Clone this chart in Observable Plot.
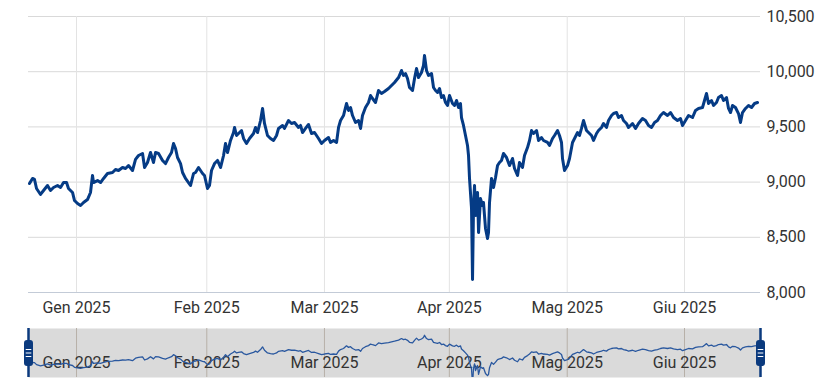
<!DOCTYPE html>
<html>
<head>
<meta charset="utf-8">
<script src="https://cdn.jsdelivr.net/npm/d3@7"></script>
<script src="https://cdn.jsdelivr.net/npm/@observablehq/plot@0.6"></script>
<style>
  html, body { margin: 0; padding: 0; background: #fff; }
  #chart { position: relative; width: 816px; height: 380px; overflow: hidden; }
  #chart svg { position: absolute; left: 0; display: block; }
</style>
</head>
<body>
<div id="chart"></div>
<script>
// Trading-session index (0 = first session of January 2025) and index level
const sessions = [
  -7.97,-7.46,-7.12,-6.78,-6.10,-5.59,-4.92,-4.41,-3.90,-3.22,-2.71,-2.20,-1.69,-1.36,-0.68,-0.34,
  0.17,0.68,1.19,1.86,2.37,2.71,2.88,3.56,4.07,4.58,5.25,6.10,6.61,7.12,7.80,8.31,8.81,9.49,10.0,
  10.51,11.19,11.53,12.03,12.54,
  13.05,13.39,13.90,14.58,15.08,15.59,16.10,16.44,16.78,17.12,17.63,17.97,18.47,18.98,19.32,19.83,
  20.17,20.68,21.36,21.69,22.20,22.54,22.88,23.39,23.90,24.41,24.92,25.25,25.59,26.10,26.61,26.78,
  27.12,27.46,27.97,28.31,28.81,29.32,30.0,30.34,30.68,31.19,31.53,31.86,32.37,32.88,33.39,33.90,
  34.24,34.92,35.25,35.93,36.44,36.95,37.63,37.97,38.31,38.81,39.32,39.83,40.34,41.02,41.53,42.03,
  42.71,43.05,43.56,44.07,44.41,44.75,45.25,45.76,46.10,46.44,46.78,47.29,47.80,48.14,48.47,48.98,
  49.49,49.83,50.17,50.68,51.19,51.69,52.20,52.88,53.39,53.90,54.58,55.08,
  55.42,55.76,56.10,56.44,56.95,57.29,57.63,57.97,58.47,58.81,58.98,59.32,59.66,60.17,60.51,60.85,
  61.19,61.53,61.86,62.20,62.54,62.88,63.22,63.73,64.07,64.41,64.75,65.08,65.25,65.59,65.93,66.27,
  66.44,66.61,66.95,67.12,67.29,67.46,67.63,67.97,68.14,68.47,68.81,68.98,69.32,69.66,69.83,70.0,
  70.34,70.68,71.02,71.36,71.69,
  72.03,72.37,72.88,73.39,73.90,74.24,74.75,75.08,75.59,75.93,76.44,76.78,77.12,77.46,77.97,78.31,
  78.81,79.15,79.83,80.17,80.68,81.02,81.53,81.86,82.20,82.37,82.71,83.22,83.56,84.07,84.41,84.92,
  85.25,85.59,85.93,86.44,86.78,87.29,87.63,88.14,88.47,88.98,89.32,89.83,90.17,90.68,91.02,91.53,
  91.86,92.37,92.71,93.22,
  93.56,94.24,94.75,95.25,95.93,96.44,96.95,97.46,97.97,98.47,98.98,99.49,100.17,100.68,101.19,
  101.86,102.37,102.71,103.22,103.73,104.41,104.92,105.42,106.10,106.44,106.78,107.12,107.63,
  107.97,108.47,108.81,109.32,109.66,110.17,110.51,110.85,111.19,111.69,112.20,112.54,112.88,
  113.39,113.90,114.41,114.92,115.42
];
const prices = [
  8987,9033,9024,8942,8888,8924,8969,8924,8951,8969,8951,8996,8996,8942,8906,8833,
  8806,8788,8815,8842,8906,9060,8996,9014,8996,9033,9078,9087,9114,9105,9132,9123,9150,9105,9205,
  9241,9259,9132,9178,9268,
  9178,9268,9259,9196,9168,9223,9268,9350,9304,9223,9168,9087,9033,8996,8969,9078,
  9087,9132,9078,9060,8942,8969,9105,9168,9196,9132,9241,9350,9268,9377,9449,9495,
  9422,9440,9467,9395,9350,9395,9440,9495,9449,9558,9667,9531,9422,9395,9377,9422,
  9486,9513,9486,9558,9531,9540,9495,9513,9449,9486,9522,9440,9449,9395,9350,9377,
  9404,9359,9377,9359,9495,9558,9603,9712,9649,9676,9603,9540,9558,9486,9603,9676,
  9721,9784,9757,9721,9830,9803,9821,9848,9875,9902,9947,10011,
  9966,9984,9938,9857,9830,9938,10029,9947,9993,10056,10147,10011,9966,9984,9857,9830,
  9812,9848,9766,9784,9721,9694,9784,9712,9694,9739,9676,9712,9585,9513,9422,9332,
  9241,9033,8761,8118,8788,8969,8697,8906,8543,8851,8788,8815,8580,8489,8543,8815,
  9033,8951,9042,9150,9178,
  9196,9259,9223,9150,9214,9123,9060,9178,9132,9241,9313,9377,9467,9440,9467,9377,
  9404,9377,9359,9332,9395,9422,9467,9422,9359,9214,9105,9150,9214,9359,9395,9449,
  9422,9486,9558,9467,9449,9422,9377,9440,9467,9495,9531,9495,9558,9603,9621,9630,
  9585,9603,9558,9531,
  9495,9531,9486,9531,9576,9558,9513,9495,9540,9558,9603,9630,9603,9630,9585,
  9558,9576,9513,9558,9603,9585,9649,9667,9676,9739,9803,9712,9739,
  9694,9721,9766,9784,9739,9766,9667,9630,9694,9676,9621,9540,9630,
  9667,9694,9676,9712,9721
];

// Month ticks (session index of each month start) and labels
const monthTicks = [0, 22.08, 42.02, 63.19, 83.17, 103.05];
const monthLabels = ["Gen 2025", "Feb 2025", "Mar 2025", "Apr 2025", "Mag 2025", "Giu 2025"];
const yTicks = [8000, 8500, 9000, 9500, 10000, 10500];
const xDomain = [-8.14, 115.93];
const yDomain = [8000, 10500];
const navYDomain = [8414, 10423];

const points = sessions.map((s, i) => ({s, v: prices[i]}));
const fmt = d3.format(",");
const labelOf = d => monthLabels[monthTicks.indexOf(d)];

const FONT = "Roboto, 'Liberation Sans', sans-serif";
const TEXT = "#333333";
const LINE = "#053b85";
const HANDLE = "#0b3a7e";

const main = Plot.plot({
  width: 816,
  height: 325,
  marginTop: 16,
  marginBottom: 33,
  marginLeft: 28,
  marginRight: 56,
  style: {fontFamily: FONT, fontSize: "16px", color: TEXT, background: "transparent", overflow: "visible"},
  x: {domain: xDomain, ticks: monthTicks, tickFormat: labelOf, tickSize: 0, tickPadding: 9, label: null},
  y: {domain: yDomain, ticks: yTicks, tickFormat: fmt, axis: "right", tickSize: 0, tickPadding: 6, label: null},
  marks: [
    Plot.ruleY(yTicks, {stroke: "#d9d9d9", strokeWidth: 1}),
    Plot.ruleX(monthTicks, {stroke: "#e3e3e3", strokeWidth: 1}),
    Plot.ruleY([yDomain[0]], {stroke: "#c3cbd7", strokeWidth: 1.2}),
    Plot.line(points, {x: "s", y: "v", stroke: LINE, strokeWidth: 3, strokeLinejoin: "round", strokeLinecap: "round"})
  ]
});
main.style.top = "0px";

const handleSymbol = {
  draw(ctx) {
    const w = 4.5, h = 13, r = 3;
    ctx.moveTo(-w + r, -h);
    ctx.lineTo(w - r, -h);
    ctx.arcTo(w, -h, w, -h + r, r);
    ctx.lineTo(w, h - r);
    ctx.arcTo(w, h, w - r, h, r);
    ctx.lineTo(-w + r, h);
    ctx.arcTo(-w, h, -w, h - r, r);
    ctx.lineTo(-w, -h + r);
    ctx.arcTo(-w, -h, -w + r, -h, r);
    ctx.closePath();
  }
};
const gripSymbol = {
  draw(ctx) {
    for (const yy of [-3.5, 0, 3.5]) {
      ctx.moveTo(-2.8, yy);
      ctx.lineTo(2.8, yy);
    }
  }
};

const nav = Plot.plot({
  width: 816,
  height: 55,
  marginTop: 3,
  marginBottom: 3,
  marginLeft: 28,
  marginRight: 56,
  style: {fontFamily: FONT, fontSize: "16px", color: TEXT, background: "transparent", overflow: "visible"},
  x: {domain: xDomain, axis: null},
  y: {domain: navYDomain, axis: null},
  marks: [
    Plot.frame({fill: "#dadada", stroke: null}),
    Plot.ruleX(monthTicks, {stroke: "#b7b0a8", strokeWidth: 1}),
    Plot.text(monthTicks, {x: d => d, text: labelOf, frameAnchor: "bottom", dy: -10, fill: TEXT, fontSize: 16}),
    Plot.line(points, {x: "s", y: "v", stroke: "#2a589f", strokeWidth: 1.3, clip: true}),
    Plot.ruleX(xDomain, {stroke: HANDLE, strokeWidth: 2.5}),
    Plot.dot(xDomain, {x: d => d, symbol: handleSymbol, fill: HANDLE, stroke: "none", r: 5}),
    Plot.dot(xDomain, {x: d => d, symbol: gripSymbol, fill: "none", stroke: "white", strokeWidth: 1.2, r: 5})
  ]
});
nav.style.top = "325px";

const chart = document.getElementById("chart");
chart.appendChild(main);
chart.appendChild(nav);
</script>
</body>
</html>
